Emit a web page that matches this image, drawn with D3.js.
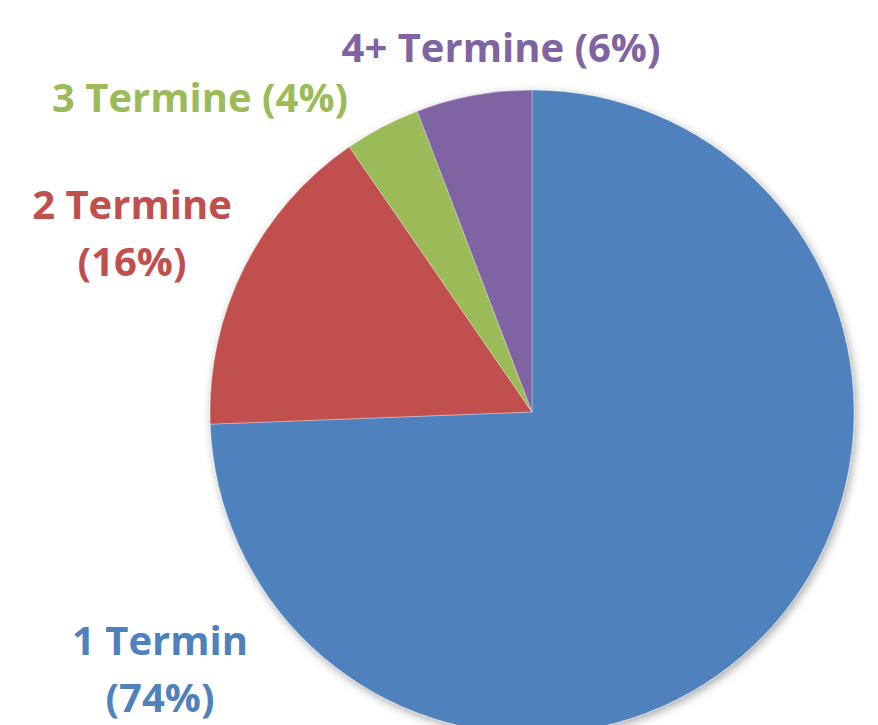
<!DOCTYPE html>
<html>
<head>
<meta charset="utf-8">
<script src="https://cdn.jsdelivr.net/npm/d3@7"></script>
<style>
  body { margin: 0; background: #fff; }
  svg { display: block; }
</style>
</head>
<body>
<div id="chart"></div>
<script>
// data
var categories = ["1 Termin", "2 Termine", "3 Termine", "4+ Termine"];
var shares = [74.4, 16.0, 3.8, 5.8];
var colors = ["#4F81BD", "#C0504D", "#9BBB59", "#8064A2"];

// label text lines, one entry per category
var labelLines = [
	["1 Termin", "(74%)"],
	["2 Termine", "(16%)"],
	["3 Termine (4%)"],
	["4+ Termine (6%)"]
];
// where each label block sits (center x, first baseline y)
var labelAnchor = [[160, 655], [132, 219], [200, 112], [501, 62]];

var width = 878, height = 725,
	cx = 532, cy = 412, radius = 322,
	lineHeight = 57;

var svg = d3.select("#chart").append("svg")
	.attr("width", width)
	.attr("height", height);

var defs = svg.append("defs");
var shadow = defs.append("filter")
	.attr("id", "shadow")
	.attr("x", "-10%").attr("y", "-10%")
	.attr("width", "120%").attr("height", "120%");
shadow.append("feGaussianBlur").attr("in", "SourceAlpha").attr("stdDeviation", 5);
shadow.append("feOffset").attr("dx", 2).attr("dy", 3).attr("result", "off");
shadow.append("feComponentTransfer").append("feFuncA").attr("type", "linear").attr("slope", 0.35);
var merge = shadow.append("feMerge");
merge.append("feMergeNode");
merge.append("feMergeNode").attr("in", "SourceGraphic");

var pie = d3.pie().sort(null).value(function(d) { return d; });
var arc = d3.arc().innerRadius(0).outerRadius(radius);

var g = svg.append("g")
	.attr("transform", "translate(" + cx + "," + cy + ")")
	.attr("filter", "url(#shadow)");

g.selectAll("path")
	.data(pie(shares))
	.enter().append("path")
	.attr("d", arc)
	.style("fill", function(d, i) { return colors[i]; })
	.style("stroke", "rgba(255,255,255,0.4)")
	.style("stroke-width", 0.8);

var labels = svg.selectAll("text.lbl")
	.data(categories)
	.enter().append("text")
	.attr("class", "lbl")
	.attr("text-anchor", "middle")
	.style("font-family", "'Open Sans', 'Noto Sans', sans-serif")
	.style("font-weight", "bold")
	.style("font-size", "40px")
	.style("fill", function(d, i) { return colors[i]; });

labels.each(function(d, i) {
	var t = d3.select(this);
	labelLines[i].forEach(function(line, j) {
		t.append("tspan")
			.attr("x", labelAnchor[i][0])
			.attr("y", labelAnchor[i][1] + j * lineHeight)
			.text(line);
	});
});
</script>
</body>
</html>
